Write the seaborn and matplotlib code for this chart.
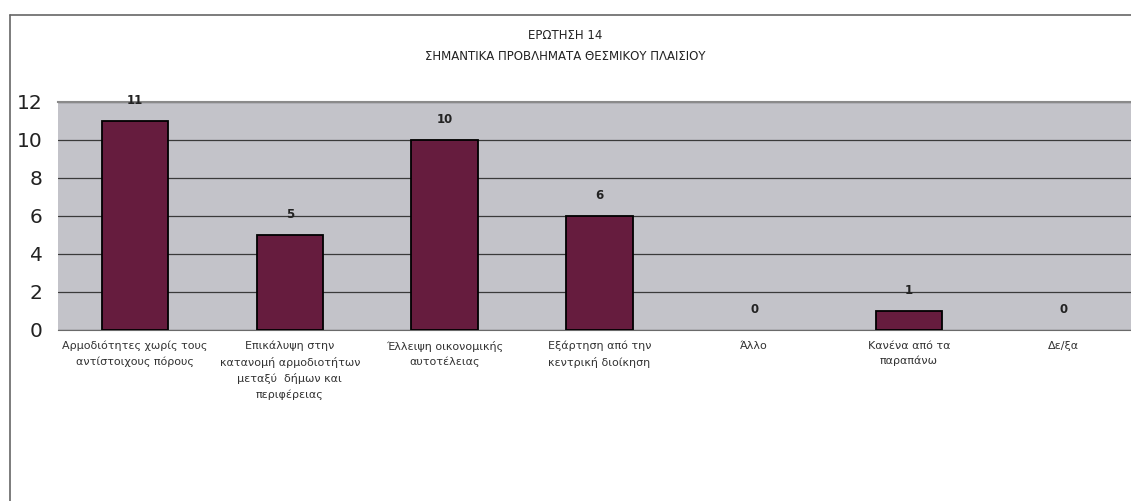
import matplotlib
matplotlib.use("Agg")
import matplotlib.pyplot as plt
import seaborn as sns
import pandas as pd
import numpy as np
from matplotlib.lines import Line2D

# question 14 answers
categories = [
    "Αρμοδιότητες χωρίς τους\nαντίστοιχους πόρους",
    "Επικάλυψη στην\nκατανομή αρμοδιοτήτων\nμεταξύ  δήμων και\nπεριφέρειας",
    "Έλλειψη οικονομικής\nαυτοτέλειας",
    "Εξάρτηση από την\nκεντρική διοίκηση",
    "Άλλο",
    "Κανένα από τα\nπαραπάνω",
    "Δε/ξα",
]
counts = [11, 5, 10, 6, 0, 1, 0]
yticks = [0, 2, 4, 6, 8, 10, 12]
title_lines = ["ΕΡΩΤΗΣΗ 14", "ΣΗΜΑΝΤΙΚΑ ΠΡΟΒΛΗΜΑΤΑ ΘΕΣΜΙΚΟΥ ΠΛΑΙΣΙΟΥ"]

df = pd.DataFrame({"cat": categories, "n": counts})

sns.set_style("white")
plt.rcParams["font.family"] = ["DejaVu Sans"]

fig = plt.figure(figsize=(11.31, 5.01), dpi=100)
ax = fig.add_axes([0.051, 0.342, 0.958, 0.455])

sns.barplot(data=df, x="cat", y="n", color="#661c3e", width=0.43,
            edgecolor="black", linewidth=1.3, saturation=1, ax=ax, zorder=3)

# zero bars show nothing in the original
for patch, v in zip(ax.patches, counts):
    if v == 0:
        patch.set_visible(False)

ax.set_facecolor("#c3c3c9")
ax.set_ylim(0, 12)
ax.set_xlim(-0.5, len(categories) - 0.5)
ax.set_yticks(yticks)
ax.set_yticklabels([str(v) for v in yticks], fontsize=14.5, color="#222222")
ax.yaxis.grid(True, color="#3a3a3a", linewidth=0.9, zorder=1)
ax.set_axisbelow(True)
ax.set_xlabel("")
ax.set_ylabel("")

ax.set_xticks(range(len(categories)))
ax.set_xticklabels(categories, fontsize=8, color="#333333", linespacing=1.6)
ax.tick_params(axis="x", length=0, pad=8)
ax.set_xticks(np.arange(-0.5, len(categories), 1), minor=True)
ax.tick_params(axis="x", which="minor", length=4, color="#555555", direction="out")
ax.tick_params(axis="y", length=5, color="#555555", direction="out", pad=6)

for s in ["right", "left"]:
    ax.spines[s].set_visible(False)
ax.spines["top"].set_color("#8a8a8a")
ax.spines["top"].set_linewidth(1.5)
ax.spines["bottom"].set_color("#6a6a6a")

for i, v in enumerate(counts):
    ax.annotate(str(v), (i, v), xytext=(0, 10), textcoords="offset points",
                ha="center", va="bottom", fontsize=8.5, fontweight="bold", color="#222222")

fig.text(0.5, 0.93, title_lines[0], ha="center", va="center", fontsize=8.5, color="#222222")
fig.text(0.5, 0.887, title_lines[1], ha="center", va="center", fontsize=8.5, color="#222222")

# outer chart frame
fig.add_artist(Line2D([0.009, 0.009], [0.0, 0.97], transform=fig.transFigure,
                      color="#666666", linewidth=1.2))
fig.add_artist(Line2D([0.009, 1.0], [0.97, 0.97], transform=fig.transFigure,
                      color="#666666", linewidth=1.2))

fig.savefig("out.png", dpi=100)
